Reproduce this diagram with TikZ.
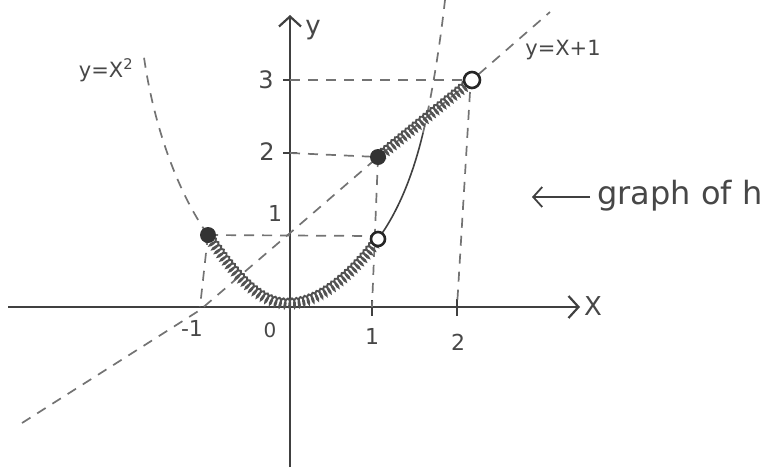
\documentclass[tikz,border=0pt]{standalone}
\usepackage{fontspec}
\setmainfont{DejaVu Sans}
\usetikzlibrary{decorations.pathmorphing, arrows.meta}
\begin{document}
\begin{tikzpicture}[x=1pt,y=-1pt,
  ink/.style={draw=black!75, line width=2.2pt},
  guide/.style={draw=black!55, line width=1.7pt, dash pattern=on 10pt off 8pt},
  spring/.style={draw=black!68, line width=1.9pt, decorate,
     decoration={coil, segment length=4.6pt, amplitude=4.5pt, aspect=0.35}},
  hand/.style={text=black!72, inner sep=0pt},
  filled/.style={circle, fill=black!80, minimum size=16pt, inner sep=0pt},
  hollow/.style={circle, draw=black!85, line width=2.6pt, fill=white, minimum size=14pt, inner sep=0pt},
  tick/.style={draw=black!75, line width=2pt}]
\useasboundingbox (0,0) rectangle (767,467);

% key points
\coordinate (O) at (288,303);
\coordinate (A) at (208,235);
\coordinate (B) at (378,239);
\coordinate (C) at (378,157);
\coordinate (D) at (472,80);

% axes
\coordinate (xs) at (8,307);
\coordinate (xe) at (580,307);
\coordinate (ys) at (290,467);
\coordinate (ye) at (290,15);
\draw[ink, -{Straight Barb[length=10pt,width=22pt,line width=2.2pt]}] (xs) -- (xe);
\draw[ink, -{Straight Barb[length=10pt,width=22pt,line width=2.2pt]}] (ys) -- (ye);
\node[hand, font=\fontsize{26}{26}\selectfont] (xlab) at (593,306) {X};
\node[hand, font=\fontsize{26}{26}\selectfont] (ylab) at (313,30) {y};

% ticks
\draw[tick] (283,80) -- (297,80);
\draw[tick] (283,153) -- (297,153);
\draw[tick] (372,300) -- (372,316);
\draw[tick] (457,299) -- (457,316);
\node[hand, font=\fontsize{24}{24}\selectfont] (t3) at (266,80) {3};
\node[hand, font=\fontsize{24}{24}\selectfont] (t2) at (267,152) {2};
\node[hand, font=\fontsize{22}{22}\selectfont] (t1) at (275,213) {1};
\node[hand, font=\fontsize{22}{22}\selectfont] (tm1) at (192,328) {-1};
\node[hand, font=\fontsize{20}{20}\selectfont] (t0) at (270,330) {0};
\node[hand, font=\fontsize{22}{22}\selectfont] (tx1) at (372,336) {1};
\node[hand, font=\fontsize{22}{22}\selectfont] (tx2) at (458,342) {2};

% dashed guides
\coordinate (g3a) at (290,80);  \coordinate (g3b) at (462,80);
\coordinate (g2a) at (290,153); \coordinate (g1b) at (372,236);
\coordinate (vm1) at (200,307); \coordinate (v1) at (372,307);
\coordinate (v2a) at (470,92);  \coordinate (v2b) at (457,307);
\draw[guide] (g3a) -- (g3b);
\draw[guide] (g2a) -- (C);
\draw[guide] (A) -- (g1b);
\draw[guide] (A) -- (vm1);
\draw[guide] (C) -- (v1);
\draw[guide] (v2a) -- (v2b);

% line y = x + 1
\coordinate (L0) at (22,423);
\coordinate (L1) at (200,310);
\coordinate (L2) at (290,233);
\coordinate (L5) at (550,12);
\draw[guide] (L0) -- (L1) -- (L2) -- (C) -- (D) -- (L5);

% parabola y = x^2
\coordinate (P0) at (143,50);
\coordinate (P3) at (423,133);
\coordinate (P4) at (445,0);
\draw[guide] (A) .. controls (176,190) and (152,120) .. (P0);
\draw[ink, line width=1.6pt] (B) .. controls (398,212) and (413,175) .. (P3);
\draw[guide] (P3) .. controls (432,95) and (440,45) .. (P4);

% graph of h
\draw[spring] (A) .. controls (240,282) and (262,303) .. (O)
              .. controls (318,303) and (350,277) .. (B);
\draw[spring] (C) -- (D);

\node[filled] (dA) at (A) {};
\node[filled] (dC) at (C) {};
\node[hollow] (dB) at (B) {};
\node[hollow, minimum size=16pt] (dD) at (D) {};

% labels
\node[hand, font=\fontsize{21}{21}\selectfont] (lpar) at (106,70) {y=X\textsuperscript{2}};
\node[hand, font=\fontsize{21}{21}\selectfont] (lline) at (563,50) {y=X+1};
\coordinate (ga) at (590,197);
\coordinate (gb) at (532,197);
\draw[ink, line width=1.8pt, -{Straight Barb[length=9pt,width=20pt,line width=1.8pt]}] (ga) -- (gb);
\node[hand, font=\fontsize{32}{32}\selectfont, anchor=base west] (gh) at (597,204) {graph of h};
\end{tikzpicture}
\end{document}
